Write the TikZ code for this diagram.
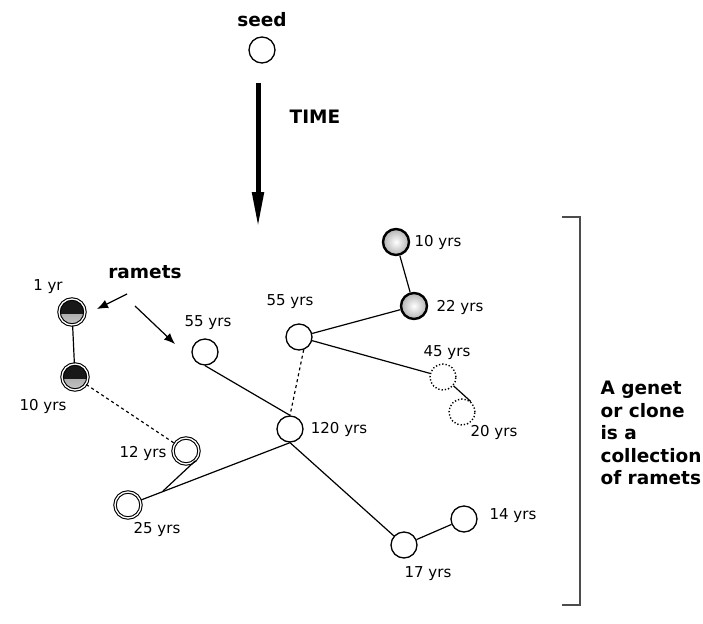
\documentclass[tikz,border=0pt]{standalone}
\usepackage{fontspec}
\setmainfont{DejaVu Sans}
\usetikzlibrary{arrows.meta}

\begin{document}
\begin{tikzpicture}
[
    x=1pt, y=-1pt,
    ramet/.style={circle, draw, line width=1.3pt, fill=white, minimum size=26pt, inner sep=0pt},
    twin/.style={ramet, double, double distance=1.3pt, line width=1.1pt},
    dark/.style={twin, top color=gray!85, bottom color=gray!45,
        path picture={\fill[black!90] (path picture bounding box.north west) rectangle ([yshift=-1.5pt]path picture bounding box.east);}},
    old/.style={ramet, line width=2.4pt, inner color=white, outer color=gray!60},
    dead/.style={ramet, dotted, line width=1.4pt},
    age/.style={font=\fontsize{15}{18}\selectfont},
    big/.style={font=\fontsize{18.5}{22.5}\selectfont\bfseries},
    link/.style={line width=1.2pt},
    ptr/.style={line width=1.2pt, -{Latex[length=11pt,width=9pt]}},
]
\useasboundingbox (0,0) rectangle (703,623);
\node[ramet] (seed) at (262,50) {};
\node[big] (seedlab) at (262,20) {seed};
\coordinate (t0) at (258,83);
\coordinate (t1) at (258,228);
\draw[line width=5pt, -{Triangle[length=36pt,width=11pt]}] (t0) -- (t1);
\node[big] (time) at (315,117) {TIME};
\node[big] (ram) at (145,272) {ramets};
\coordinate (a0) at (127,294);
\coordinate (a1) at (97,309);
\coordinate (b0) at (135,306);
\coordinate (b1) at (175,344);
\draw[ptr] (a0) -- (a1);
\draw[ptr] (b0) -- (b1);
\node[dark] (n1) at (72,312) {};
\node[dark] (n10a) at (75,377) {};
\node[twin] (n12) at (186,451) {};
\node[twin] (n25) at (128,505) {};
\node[ramet] (n55a) at (205,352) {};
\node[ramet] (n55b) at (299,337) {};
\node[ramet] (n120) at (290,429) {};
\node[old] (n10b) at (396,242) {};
\node[old] (n22) at (414,306) {};
\node[dead] (n45) at (443,377) {};
\node[dead] (n20) at (462,412) {};
\node[ramet] (n17) at (404,545) {};
\node[ramet] (n14) at (464,519) {};
\coordinate (j) at (163,491);
\draw[link] (n1) -- (n10a);
\draw[link, dashed] (n10a) -- (n12);
\draw[link] (n25) -- (n120.south);
\draw[link] (n12.-45) -- (j);
\draw[link] (n55a.south) -- (n120.north);
\draw[link, dashed] (n55b.-70) -- (n120.north);
\draw[link] (n55b) -- (n22);
\draw[link] (n55b) -- (n45);
\draw[link] (n10b) -- (n22);
\draw[link] (n45.-40) -- (n20.50);
\draw[link] (n120.south) -- (n17);
\draw[link] (n17) -- (n14);
\node[age] (l1) at (48,287) {1 yr};
\node[age] (l10a) at (43,406) {10 yrs};
\node[age] (l12) at (143,453) {12 yrs};
\node[age] (l25) at (157,529) {25 yrs};
\node[age] (l55a) at (208,323) {55 yrs};
\node[age] (l55b) at (290,302) {55 yrs};
\node[age] (l120) at (339,429) {120 yrs};
\node[age] (l10b) at (438,242) {10 yrs};
\node[age] (l22) at (460,307) {22 yrs};
\node[age] (l45) at (447,353) {45 yrs};
\node[age] (l20) at (494,432) {20 yrs};
\node[age] (l17) at (428,574) {17 yrs};
\node[age] (l14) at (513,516) {14 yrs};
\coordinate (k0) at (562,217);
\coordinate (k1) at (580,217);
\coordinate (k2) at (580,605);
\coordinate (k3) at (562,605);
\draw[line width=1.5pt, black!70] (k0) -- (k1) -- (k2) -- (k3);
\node[big, align=left, anchor=west] (genet) at (597,433) {A genet\\or clone\\is a\\collection\\of ramets};
\end{tikzpicture}
\end{document}
